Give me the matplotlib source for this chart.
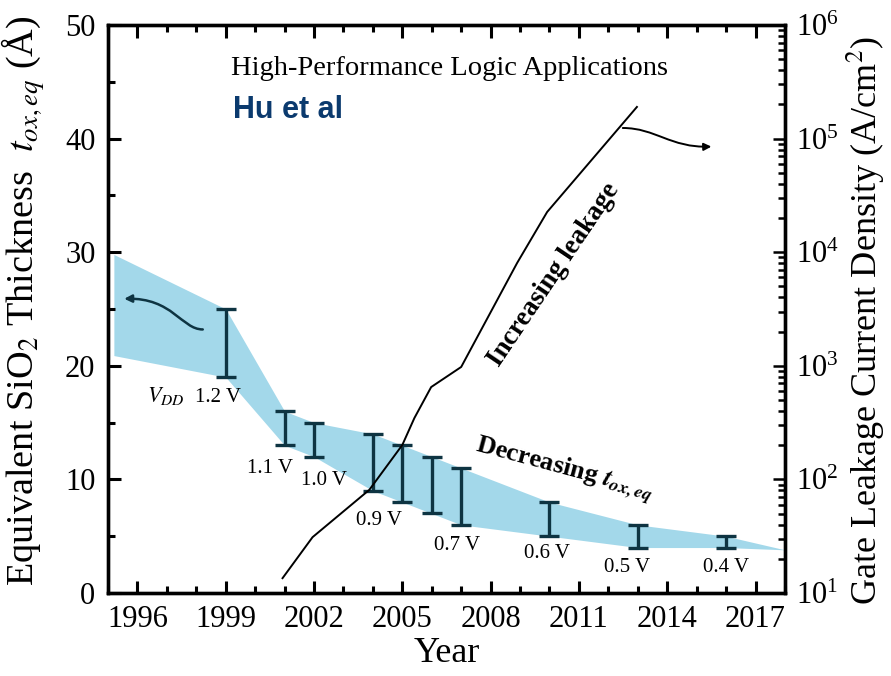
import numpy as np
import matplotlib
matplotlib.use("Agg")
import matplotlib.pyplot as plt
from matplotlib.patches import FancyArrowPatch
from matplotlib.path import Path
from matplotlib.ticker import MultipleLocator, LogLocator, FixedLocator

plt.rcParams['font.family'] = ['Liberation Serif', 'DejaVu Serif']
plt.rcParams['mathtext.fontset'] = 'stix'

# oxide thickness band (Angstrom)
band_years = [1995.2, 1999, 2001, 2002, 2004, 2005, 2006, 2007, 2010, 2013, 2016, 2018]
band_upper = [29.8, 25, 16, 15, 14, 13, 12, 11, 8, 6, 5, 3.8]
band_lower = [20.9, 19, 13, 12, 9, 8, 7, 6, 5, 4, 4, 3.8]

# thickness ranges per node
bar_years = [1999, 2001, 2002, 2004, 2005, 2006, 2007, 2010, 2013, 2016]
bar_top = [25, 16, 15, 14, 13, 12, 11, 8, 6, 5]
bar_bottom = [19, 13, 12, 9, 8, 7, 6, 5, 4, 4]

# supply voltage labels
vdd_labels = ['1.2 V', '1.1 V', '1.0 V', '0.9 V', '0.7 V', '0.6 V', '0.5 V', '0.4 V']
vdd_x = [1998.75, 2000.5, 2002.35, 2004.2, 2006.85, 2009.9, 2012.65, 2016.0]
vdd_y = [17.2, 11.0, 9.9, 6.4, 4.2, 3.5, 2.2, 2.2]

# gate leakage current density (A/cm^2)
leak_years = [2000.93, 2001.95, 2003.88, 2005.0, 2005.41, 2005.98, 2007.0, 2008.9, 2009.92, 2012.97]
leak_vals = [13.5, 31, 81, 201, 347, 650, 977, 8040, 22600, 190000]

# arrows pointing to the axis each curve belongs to (bezier: start, 2 controls, end)
arrow_left_x = [1998.22, 1997.5, 1997.2, 1995.55]
arrow_left_y = [23.2, 23.2, 26.0, 25.9]
arrow_right_x = [2012.49, 2013.6, 2014.1, 2015.5]
arrow_right_y = [1.24e5, 1.24e5, 0.83e5, 0.85e5]

band_color = '#a3d8ea'
bar_color = '#0e3442'


def curved_arrow(axis, xs, ys, color, lw):
    path = Path(list(zip(xs, ys)), [Path.MOVETO, Path.CURVE4, Path.CURVE4, Path.CURVE4])
    arr = FancyArrowPatch(path=path, arrowstyle='-|>', mutation_scale=11,
                          color=color, lw=lw, transform=axis.transData)
    axis.add_patch(arr)


fig = plt.figure(figsize=(8.91, 6.76), dpi=100)
ax = fig.add_axes([0.1212, 0.1228, 0.7598, 0.8402])

ax.fill_between(band_years, band_lower, band_upper, color=band_color, lw=0)
ax.errorbar(bar_years, [(t + b) / 2 for t, b in zip(bar_top, bar_bottom)],
            yerr=[[(t - b) / 2 for t, b in zip(bar_top, bar_bottom)]] * 2,
            fmt='none', ecolor=bar_color, elinewidth=2.4, capsize=7, capthick=2.4)

for lab, x, y in zip(vdd_labels, vdd_x, vdd_y):
    ax.text(x, y, lab, fontsize=15, ha='center', va='center')
ax.text(1996.95, 17.3, r'$V_{DD}$', fontsize=16, ha='center', va='center')

curved_arrow(ax, arrow_left_x, arrow_left_y, bar_color, 1.8)

ax.set_xlim(1995, 2018)
ax.set_ylim(0, 50)
ax.xaxis.set_major_locator(FixedLocator(range(1996, 2018, 3)))
ax.xaxis.set_minor_locator(MultipleLocator(1))
ax.yaxis.set_major_locator(MultipleLocator(10))
ax.yaxis.set_minor_locator(MultipleLocator(5))
ax.tick_params(which='both', direction='in', top=True, right=False, width=2.2,
               labelsize=22, pad=9)
ax.tick_params(which='major', length=9)
ax.tick_params(which='minor', length=5)
for s in ax.spines.values():
    s.set_linewidth(2.4)

ax.set_xlabel('Year', fontsize=26, labelpad=2)
ax.set_ylabel(r'Equivalent SiO$_2$ Thickness  $t_{ox,eq}$ (Å)', fontsize=27.5)
ax.yaxis.set_label_coords(-0.09, 0.515)

ax2 = ax.twinx()
ax2.set_yscale('log')
ax2.set_ylim(10, 1e6)
ax2.plot(leak_years, leak_vals, color='black', lw=1.4)
curved_arrow(ax2, arrow_right_x, arrow_right_y, 'black', 1.4)
ax2.yaxis.set_major_locator(LogLocator(base=10, numticks=10))
ax2.yaxis.set_minor_locator(LogLocator(base=10, subs=np.arange(2, 10), numticks=10))
ax2.tick_params(which='both', direction='in', width=1.8, labelsize=22, pad=8)
ax2.tick_params(which='major', length=9)
ax2.tick_params(which='minor', length=5)
for s in ax2.spines.values():
    s.set_linewidth(2.4)
ax2.set_ylabel(r'Gate Leakage Current Density (A/cm$^2$)', fontsize=26)
ax2.yaxis.set_label_coords(1.088, 0.48)

ax.text(0.505, 0.924, 'High-Performance Logic Applications', transform=ax.transAxes,
        fontsize=20.5, ha='center', va='center')
ax.text(0.185, 0.85, 'Hu et al', transform=ax.transAxes, fontsize=22,
        fontweight='bold', color='#0b3a6e', family='Liberation Sans',
        ha='left', va='center')
ax.text(2010.15, 28.0, 'Increasing leakage', fontsize=19.5, fontweight='bold',
        rotation=56, ha='center', va='center')
ax.text(2010.5, 10.9, r'Decreasing $\mathbfit{t}_{\mathbfit{ox,eq}}$', fontsize=19,
        fontweight='bold', rotation=-15, ha='center', va='center')

fig.savefig('out.png', dpi=100)
